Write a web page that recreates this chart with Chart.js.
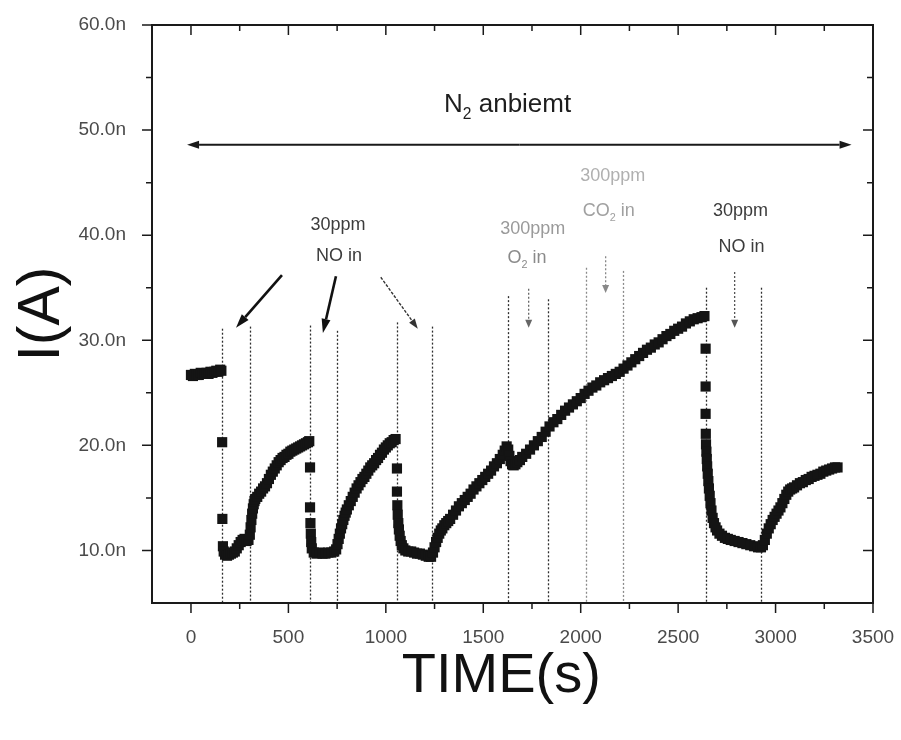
<!DOCTYPE html>
<html>
<head>
<meta charset="utf-8">
<script src="https://cdn.jsdelivr.net/npm/chart.js@4.4.1/dist/chart.umd.min.js"></script>
<style>
  html, body { margin: 0; padding: 0; background: #fff; }
  #wrap { width: 901px; height: 740px; }
</style>
</head>
<body>
<div id="wrap"><canvas id="c" width="901" height="740"></canvas></div>
<script>
// Sensor current under switched gas exposure (N2 ambient)
// time in seconds, current in nA
const timeS = [
  // N2 baseline
  0, 10, 20, 30, 40, 50, 60, 70, 80, 90, 100, 110, 120, 130, 140, 150, 156,
  // 30 ppm NO in (1st)
  160, 161, 164, 168,
  175, 185, 195, 205, 215, 225, 235, 245, 255, 265, 275, 285, 295,
  302, 306, 310, 314, 318, 322, 326, 330, 340, 350, 360, 370, 380, 390, 400, 410, 420, 430, 440,
  450, 460, 470, 480, 490, 500, 510, 520, 530, 540, 550, 560, 570, 580, 590, 600, 607,
  // 30 ppm NO in (2nd)
  611, 611, 613, 615, 617, 620,
  630, 645, 660, 675, 690, 705, 720, 735, 745,
  752, 758, 764, 770, 776, 782, 788, 794, 800, 810, 820, 830, 840, 850, 860, 870, 880, 890,
  900, 910, 920, 930, 940, 950, 960, 970, 980, 990, 1000, 1010, 1020, 1030, 1040, 1050,
  // 30 ppm NO in (3rd)
  1057, 1057, 1059, 1061, 1064, 1067, 1071, 1076, 1082, 1090,
  1100, 1115, 1130, 1145, 1160, 1175, 1190, 1205, 1220, 1232,
  1242, 1250, 1258, 1266, 1274, 1282, 1290, 1300, 1310, 1320, 1330, 1345, 1360, 1375, 1390,
  1405, 1420, 1435, 1450, 1465, 1480, 1495, 1510, 1525, 1540, 1555, 1570, 1585, 1600, 1610, 1620,
  // 300 ppm O2 in, then 300 ppm CO2 in
  1628, 1634, 1640, 1648, 1656, 1665, 1675, 1688,
  1700, 1720, 1740, 1760, 1780, 1800, 1820, 1840, 1860, 1880, 1900, 1920, 1940, 1960, 1980,
  2000, 2020, 2040, 2060, 2080, 2100, 2120, 2140, 2160, 2180, 2200, 2220, 2240, 2260, 2280,
  2300, 2320, 2340, 2360, 2380, 2400, 2420, 2440, 2460, 2480, 2500, 2520, 2540, 2560, 2580,
  2600, 2620, 2635,
  // 30 ppm NO in (4th)
  2641, 2641, 2641, 2642, 2643, 2645, 2647, 2649, 2652, 2655, 2658, 2662, 2666, 2671, 2677,
  2684, 2692, 2700, 2712, 2725, 2740, 2755, 2770, 2790, 2810, 2830, 2850, 2870, 2890, 2910, 2925,
  2935, 2945, 2955, 2965, 2975, 2985, 2995, 3005, 3015, 3025, 3035, 3045, 3055, 3065, 3075,
  3085, 3095, 3110, 3125, 3140, 3155, 3170, 3185, 3200, 3215, 3230, 3245, 3260, 3275, 3290,
  3305, 3318
];
const currentNA = [
  26.7, 26.6, 26.8, 26.7, 26.7, 26.9, 26.8, 26.8, 26.9, 26.8, 27.0, 26.9, 27.0, 27.1, 27.0, 27.2, 27.1,
  20.3, 13.0, 10.4, 9.9,
  9.6, 9.5, 9.6, 9.7, 9.8, 9.9, 10.2, 10.5, 10.8, 11.0, 11.1, 10.9, 11.0,
  11.5, 12.2, 12.9, 13.5, 14.0, 14.4, 14.7, 14.9, 15.1, 15.4, 15.6, 15.9, 16.1, 16.4, 16.8, 17.2, 17.5, 17.8, 18.1,
  18.4, 18.6, 18.8, 18.9, 19.1, 19.2, 19.4, 19.5, 19.6, 19.7, 19.8, 19.9, 20.0, 20.1, 20.2, 20.3, 20.4,
  17.9, 14.1, 12.6, 11.6, 10.8, 10.2,
  9.8, 9.7, 9.8, 9.7, 9.7, 9.8, 9.8, 9.9, 10.1,
  10.6, 11.1, 11.6, 12.1, 12.5, 12.9, 13.3, 13.6, 13.9, 14.3, 14.7, 15.1, 15.5, 15.9, 16.2, 16.5, 16.8, 17.0,
  17.3, 17.6, 17.9, 18.1, 18.3, 18.6, 18.8, 19.1, 19.3, 19.6, 19.8, 20.0, 20.2, 20.3, 20.5, 20.6,
  17.8, 15.6, 14.3, 13.4, 12.6, 12.0, 11.4, 10.9, 10.5, 10.2,
  10.0, 9.9, 9.9, 9.8, 9.7, 9.7, 9.6, 9.5, 9.4, 9.4,
  9.8, 10.3, 10.8, 11.2, 11.6, 11.9, 12.1, 12.4, 12.6, 12.8, 13.0, 13.4, 13.8, 14.2, 14.5,
  14.8, 15.1, 15.4, 15.8, 16.1, 16.4, 16.7, 17.0, 17.3, 17.6, 18.0, 18.3, 18.7, 19.1, 19.5, 19.9,
  19.6, 19.0, 18.5, 18.2, 18.1, 18.2, 18.4, 18.6,
  18.9, 19.2, 19.6, 20.0, 20.4, 20.8, 21.3, 21.8, 22.2, 22.5, 22.9, 23.3, 23.6, 23.9, 24.2,
  24.5, 24.9, 25.2, 25.5, 25.7, 26.0, 26.2, 26.4, 26.6, 26.8, 27.0, 27.3, 27.6, 27.9, 28.2,
  28.5, 28.8, 29.1, 29.3, 29.6, 29.8, 30.1, 30.4, 30.6, 30.9, 31.1, 31.3, 31.6, 31.8, 32.0,
  32.1, 32.2, 32.3,
  29.2, 25.6, 23.0, 21.1, 20.1, 19.4, 18.7, 18.0, 17.3, 16.6, 15.9, 15.2, 14.5, 13.8, 13.1,
  12.6, 12.2, 11.9, 11.6, 11.4, 11.2, 11.1, 11.0, 10.9, 10.8, 10.7, 10.6, 10.5, 10.4, 10.3, 10.3,
  10.5, 11.0, 11.6, 12.1, 12.5, 12.9, 13.2, 13.5, 13.8, 14.1, 14.5, 14.9, 15.3, 15.6, 15.8,
  15.9, 16.0, 16.2, 16.4, 16.5, 16.7, 16.8, 17.0, 17.1, 17.2, 17.3, 17.5, 17.6, 17.7, 17.8,
  17.9, 17.9
];

// Axis tick values
const xTickValues = [0, 500, 1000, 1500, 2000, 2500, 3000, 3500];
const yTickValues = [10, 20, 30, 40, 50, 60];

// Gas switching instants (s) and the current level (nA) where each marker line ends
const switchTimes = [159, 303, 610, 749, 1056, 1236, 1626, 1831, 2026, 2215, 2641, 2923];
const switchTops  = [31.1, 31.3, 31.4, 30.9, 31.7, 31.3, 34.2, 33.9, 36.9, 36.6, 35.0, 35.0];

// Arrows: [t0, i0, t1, i1]
const noArrows   = [[467, 36.2, 231, 31.2], [744, 36.1, 677, 30.7], [974, 36.0, 1164, 31.1]];
const gasArrows  = [[1733, 34.9, 1733, 31.2], [2128, 38.0, 2128, 34.5], [2790, 36.5, 2790, 31.2]];
const ambientSpan = [-20, 3390, 48.6];

// Text labels ("_2" marks a subscript 2): text, t, i
const gasLabels = [
  ['30ppm', 754, 41.0], ['NO in', 760, 38.0],
  ['300ppm', 1754, 40.6], ['O_2 in', 1725, 37.8],
  ['300ppm', 2164, 45.6], ['CO_2 in', 2144, 42.3],
  ['30ppm', 2820, 42.3], ['NO in', 2825, 38.9]
];
const ambientLabel = ['N_2 anbiemt', 1625, 52.4];

const FONT = '"Liberation Sans", Arial, Helvetica, sans-serif';

function drawArrow(ctx, x1, y1, x2, y2, o) {
  const a = Math.atan2(y2 - y1, x2 - x1);
  const bx = x2 - o.head * Math.cos(a), by = y2 - o.head * Math.sin(a);
  ctx.save();
  ctx.strokeStyle = o.color; ctx.fillStyle = o.color; ctx.lineWidth = o.width;
  ctx.setLineDash(o.dash || []);
  ctx.beginPath(); ctx.moveTo(x1, y1); ctx.lineTo(bx, by); ctx.stroke();
  ctx.setLineDash([]);
  ctx.beginPath();
  ctx.moveTo(x2, y2);
  ctx.lineTo(bx + o.hw * Math.sin(a), by - o.hw * Math.cos(a));
  ctx.lineTo(bx - o.hw * Math.sin(a), by + o.hw * Math.cos(a));
  ctx.closePath(); ctx.fill();
  ctx.restore();
}

function drawRichText(ctx, text, cx, cy, size, color) {
  const parts = text.split(/_(\d)/).map((t, i) => ({ t, sub: i % 2 === 1 }));
  ctx.save();
  ctx.fillStyle = color; ctx.textBaseline = 'middle'; ctx.textAlign = 'left';
  let total = 0;
  parts.forEach(p => {
    ctx.font = (p.sub ? size * 0.6 : size) + 'px ' + FONT;
    p.w = ctx.measureText(p.t).width; total += p.w;
  });
  let x = cx - total / 2;
  parts.forEach(p => {
    ctx.font = (p.sub ? size * 0.6 : size) + 'px ' + FONT;
    ctx.fillText(p.t, x, p.sub ? cy + size * 0.38 : cy);
    x += p.w;
  });
  ctx.restore();
}

// Dotted switching lines behind the data
const switchLines = {
  id: 'switchLines',
  beforeDatasetsDraw(chart) {
    const { ctx, chartArea: area, scales: { x, y } } = chart;
    ctx.save();
    switchTimes.forEach((t, i) => {
      const px = Math.round(x.getPixelForValue(t)) + 0.5;
      ctx.strokeStyle = (i === 8 || i === 9) ? '#8a8a8a' : '#2e2e2e';
      ctx.lineWidth = 1.3;
      ctx.setLineDash([2, 2]);
      ctx.beginPath();
      ctx.moveTo(px, y.getPixelForValue(switchTops[i]));
      ctx.lineTo(px, area.bottom);
      ctx.stroke();
    });
    ctx.restore();
  }
};

// Arrows and gas labels
const annotations = {
  id: 'annotations',
  afterDatasetsDraw(chart) {
    const { ctx, scales: { x, y } } = chart;
    const P = (t, v) => [x.getPixelForValue(t), y.getPixelForValue(v)];

    // N2 ambient double arrow
    const [l, r, lv] = ambientSpan;
    const [lx, ly] = P(l, lv), [rx] = P(r, lv);
    const mid = (lx + rx) / 2;
    drawArrow(ctx, mid, ly, lx, ly, { color: '#1a1a1a', width: 2, head: 12, hw: 4 });
    drawArrow(ctx, mid, ly, rx, ly, { color: '#1a1a1a', width: 2, head: 12, hw: 4 });
    drawRichText(ctx, ambientLabel[0], ...P(ambientLabel[1], ambientLabel[2]), 26, '#1e1e1e');

    noArrows.forEach((a, i) => {
      const [x1, y1] = P(a[0], a[1]), [x2, y2] = P(a[2], a[3]);
      if (i < 2) drawArrow(ctx, x1, y1, x2, y2, { color: '#111', width: 2.6, head: 14, hw: 4.5 });
      else drawArrow(ctx, x1, y1, x2, y2, { color: '#333', width: 1.4, dash: [3, 1.5], head: 10, hw: 3.5 });
    });
    const gasColors = ['#666', '#888', '#555'];
    gasArrows.forEach((a, i) => {
      const [x1, y1] = P(a[0], a[1]), [x2, y2] = P(a[2], a[3]);
      drawArrow(ctx, x1, y1, x2, y2, { color: gasColors[i], width: 1.3, dash: [2, 2], head: 8, hw: 3.5 });
    });

    const labelColors = ['#3c3c3c', '#3c3c3c', '#9a9a9a', '#8a8a8a', '#b0b0b0', '#a0a0a0', '#3c3c3c', '#3c3c3c'];
    gasLabels.forEach((g, i) => {
      const [px, py] = P(g[1], g[2]);
      drawRichText(ctx, g[0], px, py, 18, labelColors[i]);
    });
  }
};

// Box frame with outward ticks on bottom/left and inward ticks on top/right
const frame = {
  id: 'frame',
  afterDraw(chart) {
    const { ctx, chartArea: a, scales: { x, y } } = chart;
    ctx.save();
    ctx.strokeStyle = '#1a1a1a';
    ctx.lineWidth = 2;
    ctx.strokeRect(a.left, a.top, a.right - a.left, a.bottom - a.top);
    ctx.lineWidth = 1.5;
    ctx.beginPath();
    for (let t = 0; t <= 3500; t += 250) {
      const px = x.getPixelForValue(t), L = t % 500 === 0 ? 10 : 6;
      ctx.moveTo(px, a.bottom); ctx.lineTo(px, a.bottom + L);
      ctx.moveTo(px, a.top); ctx.lineTo(px, a.top + L);
    }
    for (let v = 10; v <= 60; v += 5) {
      const py = y.getPixelForValue(v), L = v % 10 === 0 ? 10 : 6;
      ctx.moveTo(a.left, py); ctx.lineTo(a.left - L, py);
      ctx.moveTo(a.right, py); ctx.lineTo(a.right - L, py);
    }
    ctx.stroke();
    ctx.restore();
  }
};

new Chart(document.getElementById('c'), {
  type: 'scatter',
  data: {
    datasets: [{
      data: timeS.map((t, i) => ({ x: t, y: currentNA[i] })),
      pointStyle: 'rect',
      pointRadius: 7.2,
      pointBorderWidth: 0,
      backgroundColor: '#141414',
      borderColor: '#141414'
    }]
  },
  options: {
    responsive: false,
    animation: false,
    events: [],
    layout: { padding: { left: 0, top: 25, right: 28, bottom: 0 } },
    plugins: { legend: { display: false }, tooltip: { enabled: false } },
    scales: {
      x: {
        type: 'linear',
        min: -200, max: 3500,
        border: { display: false },
        grid: { display: false },
        afterBuildTicks: s => { s.ticks = xTickValues.map(v => ({ value: v })); },
        ticks: {
          padding: 0, autoSkip: false, maxRotation: 0,
          color: '#4a4a4a', font: { family: FONT, size: 19, lineHeight: 2.84 },
          callback: v => String(v)
        },
        title: {
          display: true, text: 'TIME(s)\u2009\u2009', color: '#111',
          font: { family: FONT, size: 56, lineHeight: 1 },
          padding: { top: 0, bottom: 35 }
        },
        afterFit: s => { s.height = 137; }
      },
      y: {
        type: 'linear',
        min: 5, max: 60,
        border: { display: false },
        grid: { display: false },
        afterBuildTicks: s => { s.ticks = yTickValues.map(v => ({ value: v })); },
        ticks: {
          padding: 18, autoSkip: false,
          color: '#4a4a4a', font: { family: FONT, size: 19, lineHeight: 0.6 },
          callback: v => v.toFixed(1) + 'n'
        },
        title: {
          display: true, text: 'I(A)', color: '#111',
          font: { family: FONT, size: 59, lineHeight: 1 },
          padding: { top: 13, bottom: 0 }
        },
        afterFit: s => { s.width = 152; }
      }
    }
  },
  plugins: [switchLines, annotations, frame]
});
</script>
</body>
</html>
